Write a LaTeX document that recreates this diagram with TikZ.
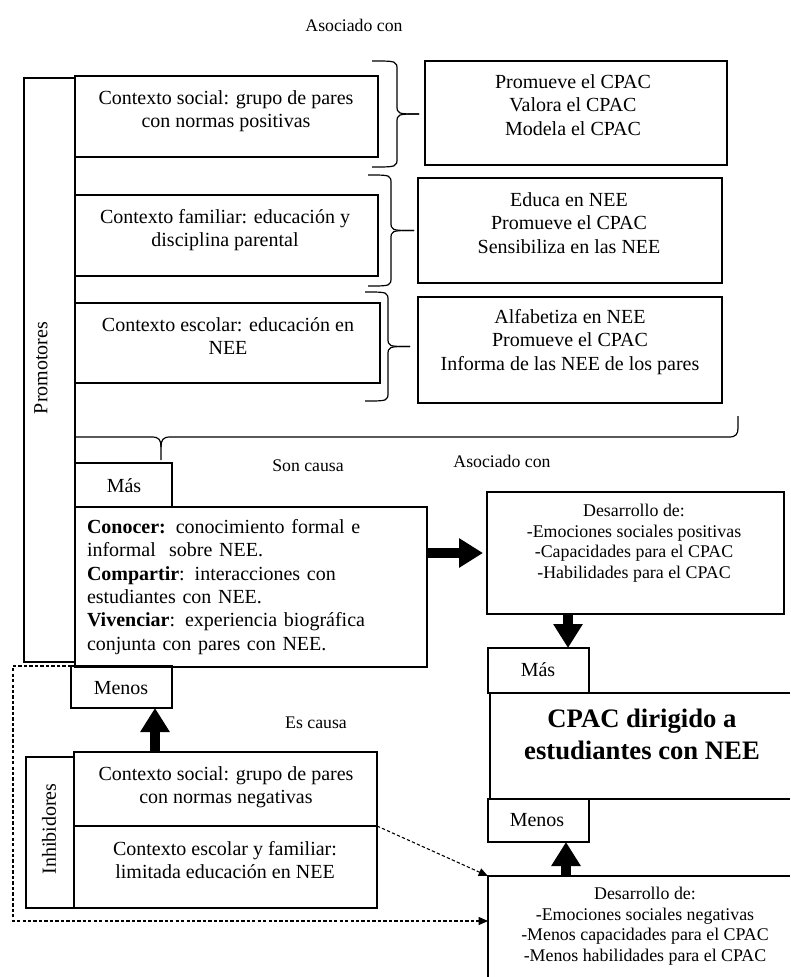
\documentclass[tikz,border=0pt]{standalone}
\usepackage{fontspec}
\setmainfont{Liberation Serif}
\usetikzlibrary{arrows.meta,calc}

% type sizes
\newcommand\fmain{\fontsize{15pt}{17.5pt}\selectfont}
\newcommand\fsmall{\fontsize{13.4pt}{15.4pt}\selectfont}
\newcommand\flabel{\fontsize{13.3pt}{15pt}\selectfont}
\newcommand\fbig{\fontsize{20pt}{24pt}\selectfont\bfseries}

% right-pointing curly brace: end x, top y, bottom y, body x, tip x
\newcommand\curlybr[5]{%
  \draw[brc] (#1,#2) .. controls (#4,#2) .. (#4,{#2+9}) -- (#4,{(#2+#3)/2-9})
     .. controls (#4,{(#2+#3)/2}) .. (#5,{(#2+#3)/2});
  \draw[brc] (#1,#3) .. controls (#4,#3) .. (#4,{#3-9}) -- (#4,{(#2+#3)/2+9})
     .. controls (#4,{(#2+#3)/2}) .. (#5,{(#2+#3)/2});
}

\begin{document}
\begin{tikzpicture}[x=0.75pt,y=-0.75pt,
  every node/.style={inner sep=0pt, outer sep=0pt},
  bx/.style={draw, line width=0.9pt, anchor=north west},
  sz/.style 2 args={minimum width=#1*0.75pt, minimum height=#2*0.75pt},
  txt/.style={font=\fmain, align=center},
  smalltxt/.style={font=\fsmall, align=center},
  lbl/.style={font=\flabel},
  brc/.style={line width=0.9pt},
  thickarr/.style={line width=7.5pt, -{Triangle[length=18pt,width=21pt]}},
  dasharr/.style={line width=0.8pt, dash pattern=on 2.5pt off 1.6pt,
                  -{Triangle[length=7pt,width=6pt]}}
]
\fill[white] (0,0) rectangle (790,977);
\useasboundingbox (0,0) rectangle (790,977);

% ---------- promoters ----------
\node[bx, sz={51}{584}] (promo) at (24,78) {};
\node[txt, rotate=90] (promotxt) at (41,368) {Promotores};

\node[lbl] (asoc1) at (354,25) {Asociado con};

\node[bx, sz={303}{81}] (soc) at (75,76) {};
\node[txt] (soctxt) at (226,111) {Contexto social: grupo de pares\\con normas positivas};
\node[bx, sz={302}{104}] (r1) at (425,61) {};
\node[txt] (r1txt) at (573,105) {Promueve el CPAC\\Valora el CPAC\\Modela el CPAC};

\node[bx, sz={303}{81}] (fam) at (75,195) {};
\node[txt] (famtxt) at (225,230) {Contexto familiar: educación y\\disciplina parental};
\node[bx, sz={304}{105}] (r2) at (418,178) {};
\node[txt] (r2txt) at (569,223) {Educa en NEE\\Promueve el CPAC\\Sensibiliza en las NEE};

\node[bx, sz={305}{80}] (esc) at (75,303) {};
\node[txt] (esctxt) at (228,336) {Contexto escolar: educación en\\NEE};
\node[bx, sz={304}{106}] (r3) at (418,297) {};
\node[txt] (r3txt) at (570,342) {Alfabetiza en NEE\\Promueve el CPAC\\Informa de las NEE de los pares};

\curlybr{372}{61}{167}{397}{419}
\curlybr{368}{175}{286}{391}{414}
\curlybr{365}{292}{401}{388}{410}

% long brace gathering the three contexts
\draw[brc] (75,437) -- (152,437) .. controls (159,437) and (161,440) .. (161,447) -- (161,460);
\draw[brc] (161,447) .. controls (161,440) and (163,437) .. (170,437) -- (729,437)
   .. controls (736,437) and (738,434) .. (738,428) -- (738,416);

\node[lbl] (soncausa) at (308,466) {Son causa};
\node[lbl] (asoc2) at (502,461) {Asociado con};

% ---------- knowledge / sharing / living ----------
\node[bx, sz={97}{44}] (masA) at (75,463) {};
\node[txt] (masAtxt) at (124,486) {Más};
\node[bx, sz={352}{160}] (know) at (75,507) {};
\node[font=\fmain, align=left, text width=240pt] (knowtxt) at (247,587) {%
\makebox[240pt][s]{\textbf{Conocer:} conocimiento formal e}\\
informal~ sobre NEE.\\
\makebox[240pt][s]{\textbf{Compartir}: interacciones con}\\
estudiantes con NEE.\\
\makebox[240pt][s]{\textbf{Vivenciar}: experiencia biográfica}\\
conjunta con pares con NEE.};
\node[bx, sz={101}{42}] (menosA) at (71,666) {};
\node[txt] (menosAtxt) at (121,688) {Menos};

% ---------- inhibitors ----------
\node[lbl] (escausa) at (316,723) {Es causa};
\node[bx, sz={48}{151}] (inh) at (26,757) {};
\node[txt, rotate=90] (inhtxt) at (49,829) {Inhibidores};
\node[bx, sz={303}{74}] (ia) at (74,752) {};
\node[txt] (iatxt) at (226,787) {Contexto social: grupo de pares\\con normas negativas};
\node[bx, sz={303}{82}] (ib) at (74,826) {};
\node[txt] (ibtxt) at (225,860) {Contexto escolar y familiar:\\limitada educación en NEE};

% ---------- outcomes ----------
\node[bx, sz={297}{122}] (pos) at (487,492) {};
\node[smalltxt] (postxt) at (634,543) {Desarrollo de:\\-Emociones sociales positivas\\-Capacidades para el CPAC\\-Habilidades para el CPAC};
\node[bx, sz={101}{45}] (masB) at (488,648) {};
\node[txt] (masBtxt) at (538,670) {Más};
\node[anchor=north west, sz={300}{106}] (cpac) at (490,693) {};
\draw[line width=0.9pt] (cpac.north east) -- (cpac.north west) -- (cpac.south west) -- (cpac.south east);
\node[font=\fbig, align=center] (cpactxt) at (642,734) {CPAC dirigido a\\estudiantes con NEE};
\node[bx, sz={101}{43}] (menosB) at (488,799) {};
\node[txt] (menosBtxt) at (537,820) {Menos};
\node[anchor=north west, sz={302}{101}] (neg) at (488,876) {};
\draw[line width=0.9pt] (neg.north east) -- (neg.north west) -- (neg.south west);
\node[smalltxt] (negtxt) at (645,926) {Desarrollo de:\\-Emociones sociales negativas\\-Menos capacidades para el CPAC\\-Menos habilidades para el CPAC};

% ---------- thick arrows ----------
\draw[thickarr, shorten >=3pt] (know.east |- pos.west) -- (pos.west);
\coordinate (dn) at ($(pos.south west)+(81,0)$);
\draw[thickarr] (dn) -- (dn |- masB.north);
\coordinate (upA) at ($(ia.north west)+(81,0)$);
\draw[thickarr] (upA) -- (upA |- menosA.south);
\coordinate (upB) at ($(neg.north west)+(78,0)$);
\draw[thickarr] (upB) -- (upB |- menosB.south);

% ---------- dashed arrows ----------
\coordinate (dcorner) at (13,666);
\coordinate (dend) at (488,921);
\draw[dasharr] (menosA.north west) -- (dcorner) |- (dend);
\draw[dasharr] (ia.south east) -- (neg.north west);
\end{tikzpicture}
\end{document}
